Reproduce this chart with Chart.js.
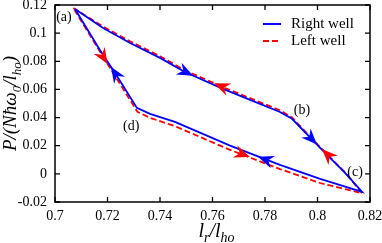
<!DOCTYPE html>
<html>
<head>
<meta charset="utf-8">
<script src="https://cdn.jsdelivr.net/npm/chart.js@4.4.1/dist/chart.umd.min.js"></script>
<style>
  body { margin: 0; background: #fff; }
  #wrap { width: 382px; height: 243px; }
</style>
</head>
<body>
<div id="wrap"><canvas id="chart" width="382" height="243"></canvas></div>
<script>
// Right well (blue, solid) loop: a -> b -> c -> d -> a
const rightX = [0.7076, 0.7183, 0.7286, 0.7400, 0.7495, 0.7640, 0.7781, 0.7857, 0.7903, 0.8010, 0.8105, 0.8170,
                0.8010, 0.7857, 0.7667, 0.7457, 0.7362, 0.7312, 0.7236, 0.7171, 0.7076];
const rightY = [0.1172, 0.1037, 0.0930, 0.0824, 0.0724, 0.0604, 0.0497, 0.0440, 0.0391, 0.0185, 0.0007, -0.0128,
                -0.0035, 0.0064, 0.0201, 0.0369, 0.0426, 0.0469, 0.0696, 0.0880, 0.1172];

// Left well (red, dashed)
const leftX = [0.7070, 0.7180, 0.7286, 0.7400, 0.7495, 0.7640, 0.7781, 0.7857, 0.7903, 0.8010, 0.8105, 0.8170,
               0.8010, 0.7857, 0.7667, 0.7457, 0.7362, 0.7314, 0.7200, 0.7070];
const leftY = [0.1178, 0.1050, 0.0942, 0.0836, 0.0736, 0.0616, 0.0509, 0.0452, 0.0400, 0.0190, 0.0010, -0.0138,
               -0.0065, 0.0034, 0.0170, 0.0339, 0.0398, 0.0441, 0.0781, 0.1178];

// arrow heads: tip point and a point behind it on the same curve
const rightArrowTipX = [0.7526, 0.7998, 0.7773, 0.7213];
const rightArrowTipY = [0.0698, 0.0208, 0.0122, 0.0761];
const rightArrowFromX = [0.7476, 0.7952, 0.7827, 0.7248];
const rightArrowFromY = [0.0744, 0.0297, 0.0086, 0.0660];
const leftArrowTipX = [0.7606, 0.8017, 0.7743, 0.7200];
const leftArrowTipY = [0.0644, 0.0177, 0.0119, 0.0781];
const leftArrowFromX = [0.7659, 0.8063, 0.7690, 0.7170];
const leftArrowFromY = [0.0602, 0.0090, 0.0156, 0.0873];

// point labels
const pointLabels = ['(a)', '(b)', '(c)', '(d)'];
const pointLabelX = [0.7034, 0.7941, 0.8143, 0.7290];
const pointLabelY = [0.1115, 0.0454, 0.0013, 0.0340];

const xTicks = [0.7, 0.72, 0.74, 0.76, 0.78, 0.8, 0.82];
const xTickLabels = ['0.7', '0.72', '0.74', '0.76', '0.78', '0.8', '0.82'];
const yTicks = [-0.02, 0, 0.02, 0.04, 0.06, 0.08, 0.1, 0.12];
const yTickLabels = ['-0.02', '0', '0.02', '0.04', '0.06', '0.08', '0.1', '0.12'];

const BLUE = '#0000ff';
const RED = '#ff0000';
const SERIF = '"Liberation Serif", "DejaVu Serif", serif';

function toPoints(xs, ys) {
    return xs.map((x, i) => ({ x: x, y: ys[i] }));
}

function buildArrows(tx, ty, fx, fy, color) {
    return tx.map((x, i) => ({ tipX: x, tipY: ty[i], fromX: fx[i], fromY: fy[i], color: color }));
}

// draws text pieces with optional subscripts, centred on (x, y) baseline
function drawRich(ctx, parts, x, y, size) {
    const subSize = Math.round(size * 0.7);
    let total = 0;
    parts.forEach(p => {
        ctx.font = `italic ${p.sub ? subSize : size}px ${SERIF}`;
        p.w = ctx.measureText(p.t).width;
        total += p.w;
    });
    let cx = x - total / 2;
    parts.forEach(p => {
        ctx.font = `italic ${p.sub ? subSize : size}px ${SERIF}`;
        ctx.fillText(p.t, cx, y + (p.sub ? size * 0.25 : 0));
        cx += p.w;
    });
}

const decorPlugin = {
    id: 'decor',
    afterDraw(chart, args, opts) {
        const ctx = chart.ctx;
        const xs = chart.scales.x;
        const ys = chart.scales.y;
        const area = chart.chartArea;

        ctx.save();
        // frame and inward ticks
        ctx.strokeStyle = '#000';
        ctx.lineWidth = 1.5;
        ctx.strokeRect(area.left, area.top, area.right - area.left, area.bottom - area.top);
        ctx.lineWidth = 1.3;
        ctx.beginPath();
        xTicks.forEach(v => {
            const px = xs.getPixelForValue(v);
            ctx.moveTo(px, area.bottom); ctx.lineTo(px, area.bottom - 5);
            ctx.moveTo(px, area.top); ctx.lineTo(px, area.top + 5);
        });
        yTicks.forEach(v => {
            const py = ys.getPixelForValue(v);
            ctx.moveTo(area.left, py); ctx.lineTo(area.left + 5, py);
            ctx.moveTo(area.right, py); ctx.lineTo(area.right - 5, py);
        });
        ctx.stroke();

        // arrow heads
        opts.arrows.forEach(a => {
            const tx = xs.getPixelForValue(a.tipX), ty = ys.getPixelForValue(a.tipY);
            const fx = xs.getPixelForValue(a.fromX), fy = ys.getPixelForValue(a.fromY);
            const ang = Math.atan2(ty - fy, tx - fx);
            const L = 16, W = 6.5;
            ctx.save();
            ctx.translate(tx, ty);
            ctx.rotate(ang);
            ctx.fillStyle = a.color;
            ctx.beginPath();
            ctx.moveTo(0, 0);
            ctx.lineTo(-L, -W);
            ctx.lineTo(-L * 0.68, 0);
            ctx.lineTo(-L, W);
            ctx.closePath();
            ctx.fill();
            ctx.restore();
        });

        // (a)..(d) labels
        ctx.fillStyle = '#000';
        ctx.font = `14px ${SERIF}`;
        ctx.textAlign = 'center';
        ctx.textBaseline = 'middle';
        pointLabels.forEach((t, i) => {
            ctx.fillText(t, xs.getPixelForValue(pointLabelX[i]), ys.getPixelForValue(pointLabelY[i]));
        });

        // legend
        ctx.textAlign = 'left';
        ctx.font = `15px ${SERIF}`;
        chart.data.datasets.forEach((ds, i) => {
            const ly = area.top + 19 + i * 17;
            ctx.strokeStyle = ds.borderColor;
            ctx.lineWidth = 2;
            ctx.setLineDash(ds.borderDash || []);
            ctx.beginPath();
            ctx.moveTo(area.right - 107, ly);
            ctx.lineTo(area.right - 89, ly);
            ctx.stroke();
            ctx.setLineDash([]);
            ctx.fillText(ds.label, area.right - 79, ly);
        });

        // axis titles
        ctx.textAlign = 'left';
        ctx.textBaseline = 'alphabetic';
        drawRich(ctx, [{ t: 'l' }, { t: 'r', sub: true }, { t: '/' }, { t: 'l' }, { t: 'ho', sub: true }],
            (area.left + area.right) / 2 + 4, 237, 20);
        ctx.save();
        ctx.translate(16, (area.top + area.bottom) / 2);
        ctx.rotate(-Math.PI / 2);
        drawRich(ctx, [{ t: 'P/(N\u0127\u03c9' }, { t: '0', sub: true }, { t: '/l' }, { t: 'ho', sub: true }, { t: ')' }],
            0, 0, 19);
        ctx.restore();
        ctx.restore();
    }
};

Chart.defaults.font.family = SERIF;
Chart.defaults.font.size = 14;
Chart.defaults.color = '#000';

new Chart(document.getElementById('chart').getContext('2d'), {
    type: 'scatter',
    data: {
        datasets: [{
            label: 'Right well',
            data: toPoints(rightX, rightY),
            showLine: true,
            borderColor: BLUE,
            borderWidth: 1.8,
            pointRadius: 0,
            tension: 0,
            fill: false
        }, {
            label: 'Left well',
            data: toPoints(leftX, leftY),
            showLine: true,
            borderColor: RED,
            borderWidth: 1.8,
            borderDash: [6, 3],
            pointRadius: 0,
            tension: 0,
            fill: false
        }]
    },
    options: {
        responsive: false,
        animation: false,
        layout: { padding: { top: 5, right: 12, left: 0, bottom: 0 } },
        plugins: {
            legend: { display: false },
            tooltip: { enabled: false },
            decor: {
                arrows: buildArrows(rightArrowTipX, rightArrowTipY, rightArrowFromX, rightArrowFromY, BLUE)
                    .concat(buildArrows(leftArrowTipX, leftArrowTipY, leftArrowFromX, leftArrowFromY, RED))
            }
        },
        scales: {
            x: {
                type: 'linear',
                min: 0.7,
                max: 0.82,
                grid: { display: false, drawTicks: false },
                border: { display: false },
                afterBuildTicks: s => { s.ticks = xTicks.map(v => ({ value: v })); },
                afterFit: s => { s.height = 41; s.paddingLeft = 0; s.paddingRight = 0; },
                ticks: {
                    padding: 6,
                    maxRotation: 0,
                    callback: (v, i) => xTickLabels[i]
                }
            },
            y: {
                type: 'linear',
                min: -0.02,
                max: 0.12,
                grid: { display: false, drawTicks: false },
                border: { display: false },
                afterBuildTicks: s => { s.ticks = yTicks.map(v => ({ value: v })); },
                afterFit: s => { s.width = 55; s.paddingTop = 0; s.paddingBottom = 0; },
                ticks: {
                    padding: 8,
                    callback: (v, i) => yTickLabels[i]
                }
            }
        }
    },
    plugins: [decorPlugin]
});
</script>
</body>
</html>
